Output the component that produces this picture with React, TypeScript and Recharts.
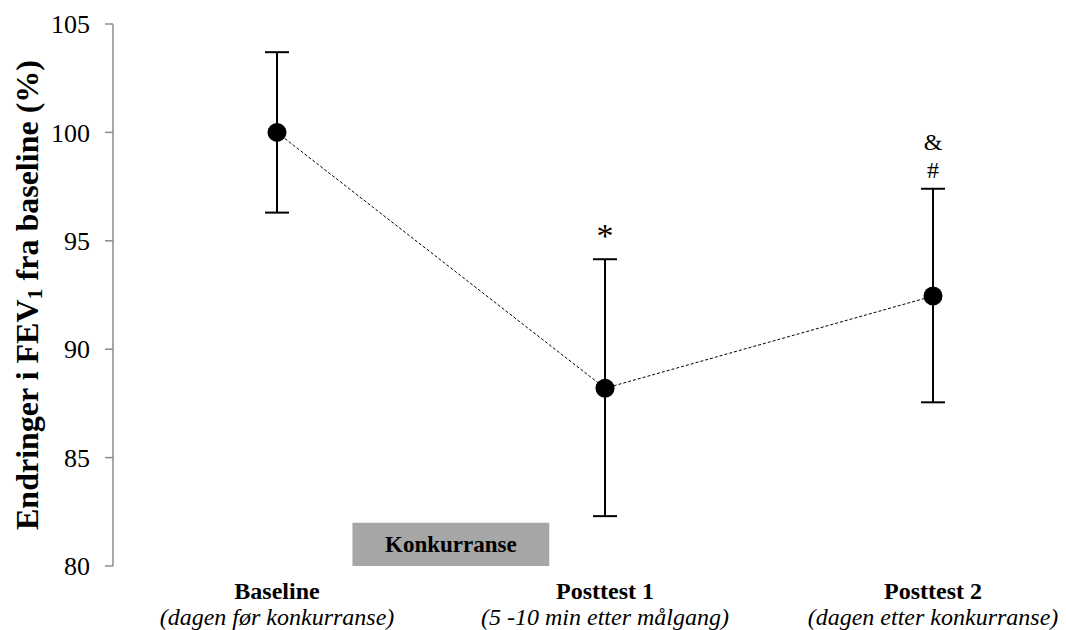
import React from "react";
import {
  ComposedChart,
  Line,
  ErrorBar,
  XAxis,
  YAxis,
  ReferenceArea,
  ReferenceDot,
} from "recharts";

const FONT = "'Liberation Serif', 'Times New Roman', serif";

// measurement points
const positions = [0, 1, 2];
const phases = ["Baseline", "Posttest 1", "Posttest 2"];
const phaseNotes = [
  "(dagen før konkurranse)",
  "(5 -10 min etter målgang)",
  "(dagen etter konkurranse)",
];
const fevPercent = [100, 88.2, 92.45];
const errLow = [3.7, 5.9, 4.9];
const errHigh = [3.7, 5.95, 4.95];
// significance markers, drawn above the upper whisker (bottom line first)
const markers: string[][] = [[], ["*"], ["#", "&"]];
const yTicks = [80, 85, 90, 95, 100, 105];

const data = positions.map((x, i) => ({
  x,
  value: fevPercent[i],
  err: [errLow[i], errHigh[i]],
}));

const PhaseTick = (props: any) => {
  const { x, y, payload } = props;
  const i = positions.indexOf(payload.value);
  if (i < 0) return null;
  return (
    <g>
      <text x={x} y={y + 17} textAnchor="middle" fontFamily={FONT} fontWeight="bold" fontSize={24} fill="#000" dominantBaseline="central">
        {phases[i]}
      </text>
      <text x={x} y={y + 43} textAnchor="middle" fontFamily={FONT} fontStyle="italic" fontSize={24} fill="#000" dominantBaseline="central">
        {phaseNotes[i]}
      </text>
    </g>
  );
};

const YLabel = (props: any) => {
  const { viewBox } = props;
  const cx = 19;
  const cy = viewBox.y + viewBox.height / 2;
  return (
    <text
      x={cx}
      y={cy}
      transform={`rotate(-90, ${cx}, ${cy})`}
      textAnchor="middle"
      dominantBaseline="central"
      fontFamily={FONT}
      fontWeight="bold"
      fontSize={32}
      fill="#000"
    >
      Endringer i FEV
      <tspan dy={7} fontSize={22}>1</tspan>
      <tspan dy={-7}> fra baseline (%)</tspan>
    </text>
  );
};

const markerLabel = (symbols: string[]) => (props: any) => {
  const { viewBox } = props;
  const cx = viewBox.x + (viewBox.width || 0) / 2;
  const cy = viewBox.y + (viewBox.height || 0) / 2;
  return (
    <g>
      {symbols.map((s, k) => (
        <text
          key={k}
          x={cx}
          y={cy - (s === "*" ? 24 : 19 + k * 28)}
          textAnchor="middle"
          dominantBaseline="central"
          fontFamily={FONT}
          fontSize={s === "*" ? 34 : 24}
          fill="#000"
        >
          {s}
        </text>
      ))}
    </g>
  );
};

export default function App() {
  return (
    <ComposedChart
      width={1050}
      height={622}
      data={data}
      margin={{ top: 16, right: 0, left: 0, bottom: 0 }}
    >
      <XAxis
        type="number"
        dataKey="x"
        domain={[-0.5, 2.381]}
        ticks={positions}
        tick={<PhaseTick />}
        axisLine={false}
        tickLine={false}
        height={64}
        interval={0}
      />
      <YAxis
        type="number"
        domain={[80, 105]}
        ticks={yTicks}
        width={105}
        axisLine={{ stroke: "#8c8c8c", strokeWidth: 1.5 }}
        tickLine={{ stroke: "#8c8c8c", strokeWidth: 1.5 }}
        tickSize={8}
        tickMargin={15}
        tick={{ fontFamily: FONT, fontSize: 26, fill: "#000" }}
        label={<YLabel />}
      />
      <ReferenceArea
        x1={0.23}
        x2={0.83}
        y1={80}
        y2={82}
        fill="#a6a6a6"
        fillOpacity={1}
        stroke="none"
        label={{
          value: "Konkurranse",
          position: "center",
          fontFamily: FONT,
          fontWeight: "bold",
          fontSize: 23,
          fill: "#000",
        }}
      />
      <Line
        dataKey="value"
        stroke="#000"
        strokeWidth={1}
        strokeDasharray="3 2"
        dot={{ r: 9.5, fill: "#000", stroke: "#000", strokeWidth: 0 }}
        activeDot={false}
        isAnimationActive={false}
      >
        <ErrorBar dataKey="err" direction="y" width={12} stroke="#000" strokeWidth={2} />
      </Line>
      {positions.map((x, i) =>
        markers[i].length ? (
          <ReferenceDot
            key={x}
            x={x}
            y={fevPercent[i] + errHigh[i]}
            r={0}
            fill="none"
            stroke="none"
            label={markerLabel(markers[i])}
          />
        ) : null
      )}
    </ComposedChart>
  );
}
